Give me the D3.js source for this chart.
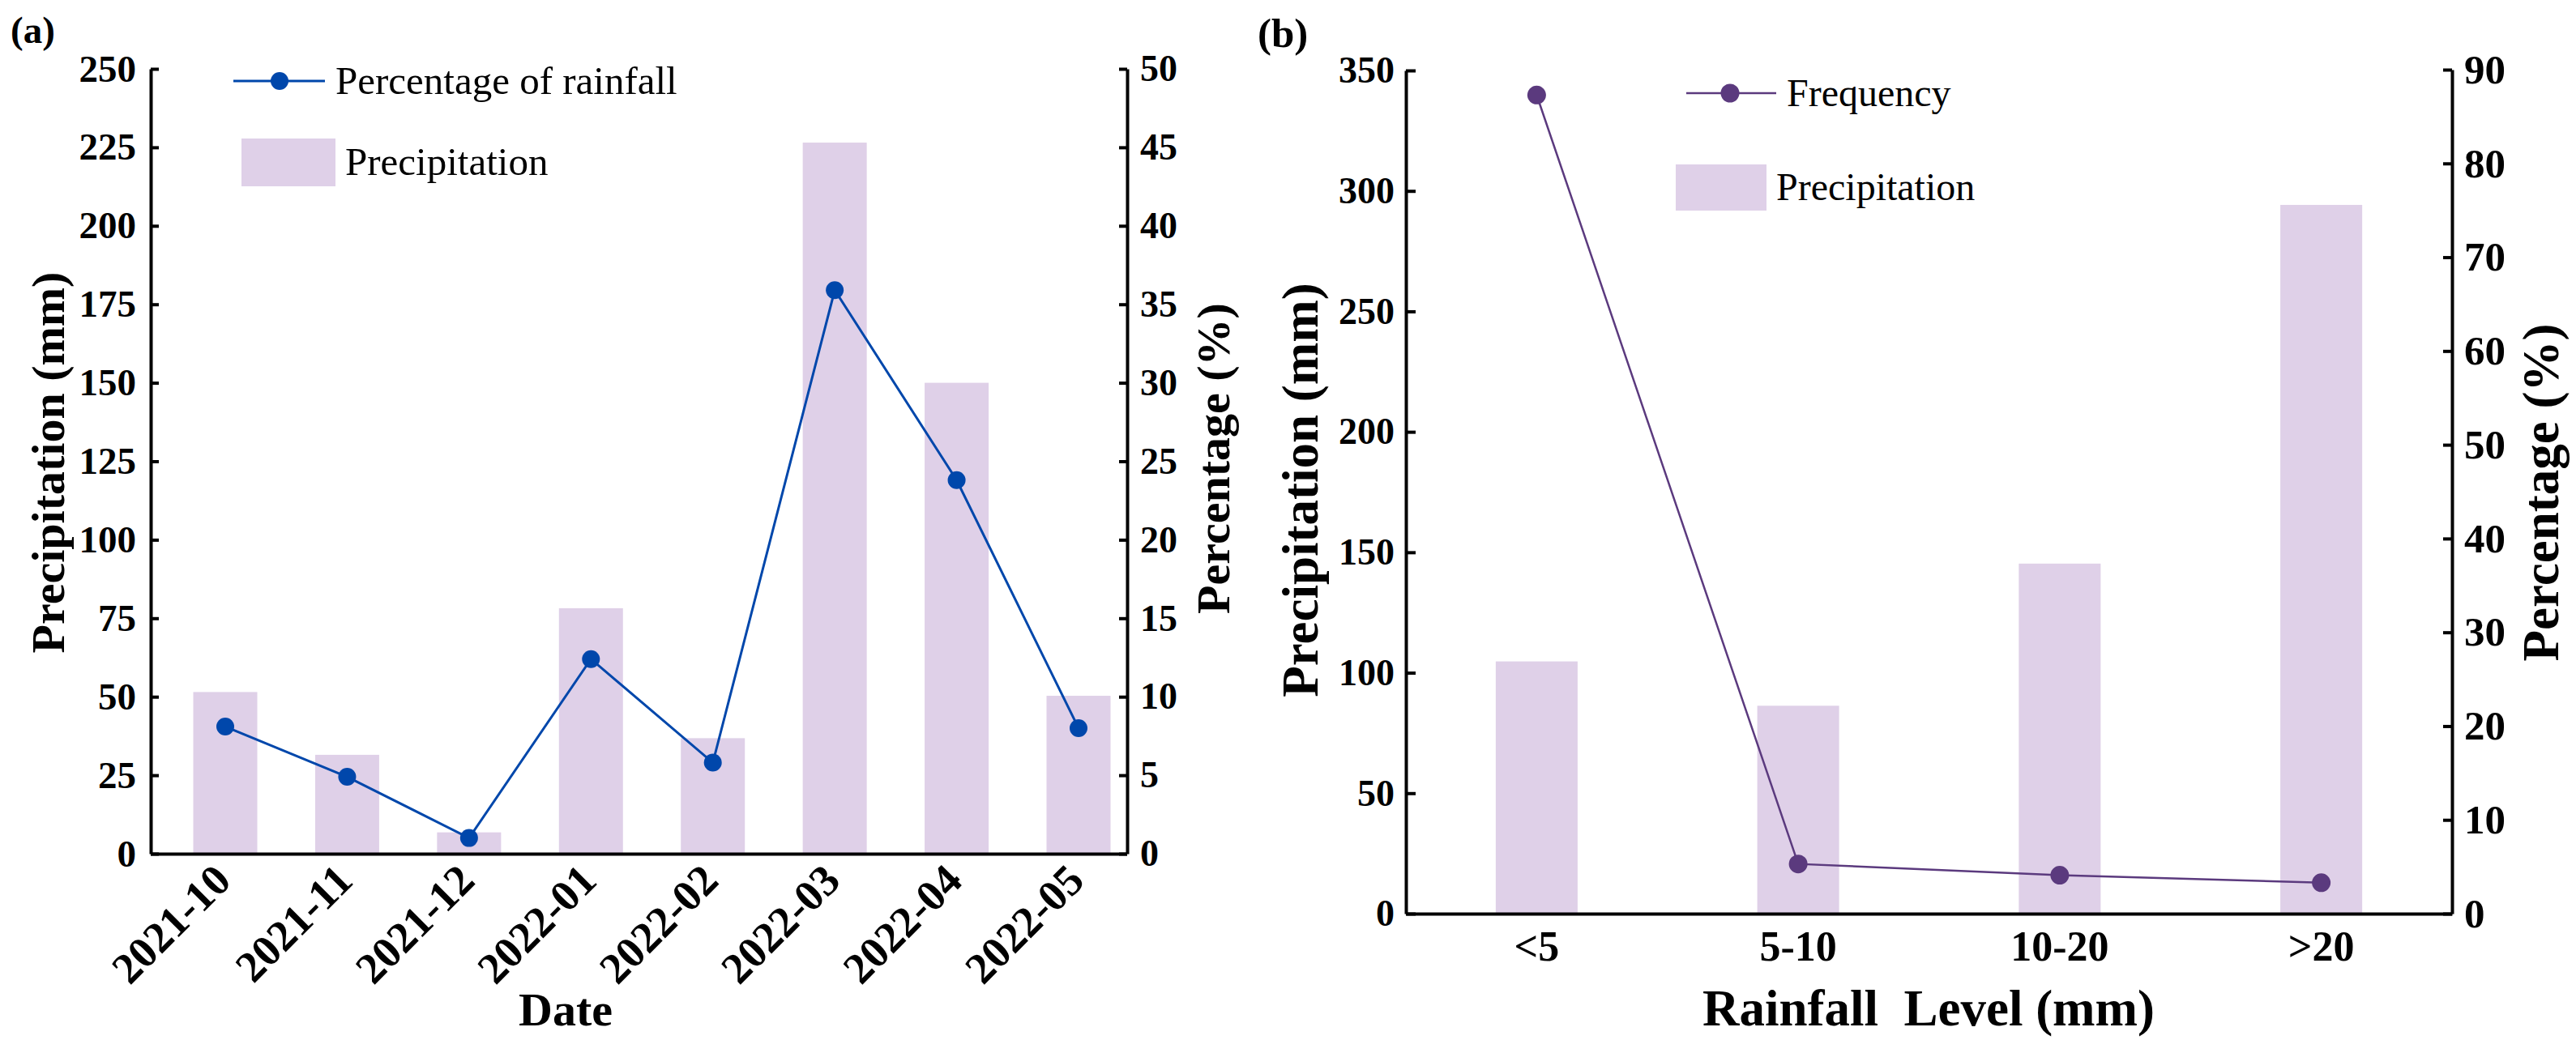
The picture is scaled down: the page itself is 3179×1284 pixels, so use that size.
<!DOCTYPE html>
<html>
<head>
<meta charset="utf-8">
<script src="https://cdn.jsdelivr.net/npm/d3@7"></script>
<style>
  body { margin: 0; background: #fff; }
  svg text { font-family: "Liberation Serif", "Times New Roman", serif; fill: #000; }
</style>
</head>
<body>
<svg id="chart" width="3179" height="1284"></svg>
<script>
// panel (a): monthly precipitation and share of the total
var dates = ["2021-10", "2021-11", "2021-12", "2022-01", "2022-02", "2022-03", "2022-04", "2022-05"];
var precipMonth = [51.5, 31.5, 6.8, 78.2, 36.8, 226.5, 150, 50.3];
var pctMonth = [8.1, 4.9, 1.0, 12.4, 5.8, 35.9, 23.8, 8.0];
var leftTicksA = [0, 25, 50, 75, 100, 125, 150, 175, 200, 225, 250];
var rightTicksA = [0, 5, 10, 15, 20, 25, 30, 35, 40, 45, 50];

// panel (b): precipitation by rainfall level
var levels = ["<5", "5-10", "10-20", ">20"];
var precipLevel = [104.7, 86.3, 145.3, 294.2];
var freqLevel = [87.3, 5.3, 4.1, 3.3];
var leftTicksB = [0, 50, 100, 150, 200, 250, 300, 350];
var rightTicksB = [0, 10, 20, 30, 40, 50, 60, 70, 80, 90];

var barColor = "#dfd0e8";
var blue = "#0047ab";
var purple = "#5b3a7e";

var svg = d3.select("#chart");

function styleAxis(g, size) {
    g.attr("font-family", null).attr("font-size", null);
    g.select(".domain").attr("stroke", "#000").attr("stroke-width", 4);
    g.selectAll(".tick line").attr("stroke", "#000").attr("stroke-width", 4);
    g.selectAll(".tick text")
        .style("font-size", size + "px")
        .style("font-weight", "bold");
}

// ---------- panel (a) ----------
var xA = d3.scalePoint().domain(dates).range([278, 1331]);
var yA = d3.scaleLinear().domain([0, 250]).range([1054, 85]);
var yA2 = d3.scaleLinear().domain([0, 50]).range([1054, 85]);
var barWA = 79;

var gA = svg.append("g");

gA.selectAll("rect.bar")
    .data(dates)
    .enter().append("rect")
    .attr("class", "bar")
    .attr("x", function(d) { return xA(d) - barWA / 2; })
    .attr("width", barWA)
    .attr("y", function(d, i) { return yA(precipMonth[i]); })
    .attr("height", function(d, i) { return yA(0) - yA(precipMonth[i]); })
    .attr("fill", barColor);

var axBottomA = gA.append("g")
    .attr("transform", "translate(0,1054)")
    .call(d3.axisBottom(xA).tickSize(0).tickSizeOuter(0));
// stretch the baseline across the whole frame
axBottomA.select(".domain").attr("d", "M186,0.5H1391");
styleAxis(axBottomA, 54);
axBottomA.selectAll(".tick text")
    .attr("x", 0).attr("y", 0).attr("dy", null)
    .attr("text-anchor", "end")
    .attr("transform", "translate(9,36) rotate(-45)");

var axLeftA = gA.append("g")
    .attr("transform", "translate(186,0)")
    .call(d3.axisLeft(yA).tickValues(leftTicksA).tickSizeInner(-10).tickSizeOuter(0).tickPadding(18));
styleAxis(axLeftA, 47);

var axRightA = gA.append("g")
    .attr("transform", "translate(1391,0)")
    .call(d3.axisRight(yA2).tickValues(rightTicksA).tickSizeInner(-10).tickSizeOuter(0).tickPadding(16));
styleAxis(axRightA, 46);

var lineA = d3.line()
    .x(function(d, i) { return xA(dates[i]); })
    .y(function(d) { return yA2(d); });

gA.append("path")
    .datum(pctMonth)
    .attr("d", lineA)
    .attr("fill", "none")
    .attr("stroke", blue)
    .attr("stroke-width", 3);

gA.selectAll("circle.pt")
    .data(pctMonth)
    .enter().append("circle")
    .attr("class", "pt")
    .attr("cx", function(d, i) { return xA(dates[i]); })
    .attr("cy", function(d) { return yA2(d); })
    .attr("r", 11)
    .attr("fill", blue);

// titles
gA.append("text").attr("x", 13).attr("y", 53)
    .style("font-size", "47px").style("font-weight", "bold").text("(a)");
gA.append("text")
    .attr("transform", "translate(79,571) rotate(-90)")
    .attr("text-anchor", "middle")
    .style("font-size", "58px").style("font-weight", "bold")
    .text("Precipitation (mm)");
gA.append("text")
    .attr("transform", "translate(1517,566) rotate(-90)")
    .attr("text-anchor", "middle")
    .style("font-size", "58px").style("font-weight", "bold")
    .text("Percentage (%)");
gA.append("text")
    .attr("x", 698).attr("y", 1266)
    .attr("text-anchor", "middle")
    .style("font-size", "58px").style("font-weight", "bold")
    .text("Date");

// legend
gA.append("line").attr("x1", 288).attr("x2", 401).attr("y1", 100).attr("y2", 100)
    .attr("stroke", blue).attr("stroke-width", 3);
gA.append("circle").attr("cx", 345).attr("cy", 100).attr("r", 11).attr("fill", blue);
gA.append("text").attr("x", 414).attr("y", 116)
    .style("font-size", "49px").text("Percentage of rainfall");
gA.append("rect").attr("x", 298).attr("y", 171).attr("width", 116).attr("height", 59)
    .attr("fill", barColor);
gA.append("text").attr("x", 426).attr("y", 216)
    .style("font-size", "49px").text("Precipitation");

// ---------- panel (b) ----------
var xB = d3.scaleBand().domain(levels).range([1735, 3026]).paddingInner(0.687).paddingOuter(0.3435);
var yB = d3.scaleLinear().domain([0, 350]).range([1128, 87]);
var yB2 = d3.scaleLinear().domain([0, 90]).range([1128, 86]);

var gB = svg.append("g");

gB.selectAll("rect.bar")
    .data(levels)
    .enter().append("rect")
    .attr("class", "bar")
    .attr("x", function(d) { return xB(d); })
    .attr("width", xB.bandwidth())
    .attr("y", function(d, i) { return yB(precipLevel[i]); })
    .attr("height", function(d, i) { return yB(0) - yB(precipLevel[i]); })
    .attr("fill", barColor);

var axBottomB = gB.append("g")
    .attr("transform", "translate(0,1128)")
    .call(d3.axisBottom(xB).tickSize(0).tickSizeOuter(0).tickPadding(21));
styleAxis(axBottomB, 52);

var axLeftB = gB.append("g")
    .attr("transform", "translate(1735,0)")
    .call(d3.axisLeft(yB).tickValues(leftTicksB).tickSizeInner(-12).tickSizeOuter(0).tickPadding(14));
styleAxis(axLeftB, 46);

var axRightB = gB.append("g")
    .attr("transform", "translate(3026,0)")
    .call(d3.axisRight(yB2).tickValues(rightTicksB).tickSizeInner(-11).tickSizeOuter(0).tickPadding(15));
styleAxis(axRightB, 51);

var lineB = d3.line()
    .x(function(d, i) { return xB(levels[i]) + xB.bandwidth() / 2; })
    .y(function(d) { return yB2(d); });

gB.append("path")
    .datum(freqLevel)
    .attr("d", lineB)
    .attr("fill", "none")
    .attr("stroke", purple)
    .attr("stroke-width", 2.5);

gB.selectAll("circle.pt")
    .data(freqLevel)
    .enter().append("circle")
    .attr("class", "pt")
    .attr("cx", function(d, i) { return xB(levels[i]) + xB.bandwidth() / 2; })
    .attr("cy", function(d) { return yB2(d); })
    .attr("r", 11.5)
    .attr("fill", purple);

gB.append("text").attr("x", 1552).attr("y", 58)
    .style("font-size", "51px").style("font-weight", "bold").text("(b)");
gB.append("text")
    .attr("transform", "translate(1626,605) rotate(-90)")
    .attr("text-anchor", "middle")
    .style("font-size", "63px").style("font-weight", "bold")
    .text("Precipitation (mm)");
gB.append("text")
    .attr("transform", "translate(3157,608) rotate(-90)")
    .attr("text-anchor", "middle")
    .style("font-size", "63px").style("font-weight", "bold")
    .text("Percentage (%)");
gB.append("text")
    .attr("x", 2380).attr("y", 1266)
    .attr("text-anchor", "middle")
    .style("font-size", "63px").style("font-weight", "bold")
    .style("white-space", "pre")
    .text("Rainfall  Level (mm)");

gB.append("line").attr("x1", 2081).attr("x2", 2192).attr("y1", 115).attr("y2", 115)
    .attr("stroke", purple).attr("stroke-width", 2.5);
gB.append("circle").attr("cx", 2135).attr("cy", 115).attr("r", 11.5).attr("fill", purple);
gB.append("text").attr("x", 2205).attr("y", 131)
    .style("font-size", "48px").text("Frequency");
gB.append("rect").attr("x", 2068).attr("y", 203).attr("width", 112).attr("height", 57)
    .attr("fill", barColor);
gB.append("text").attr("x", 2192).attr("y", 247)
    .style("font-size", "48px").text("Precipitation");
</script>
</body>
</html>
